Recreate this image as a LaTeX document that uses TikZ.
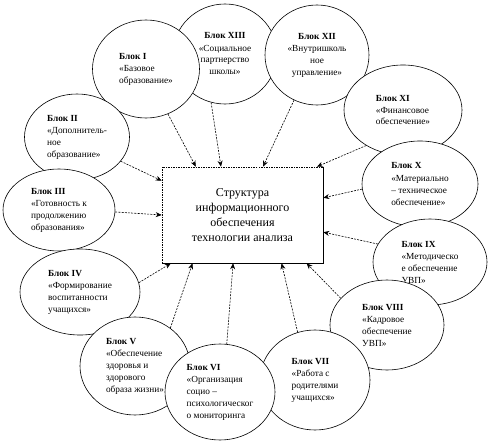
\documentclass[tikz,border=0pt]{standalone}
\usepackage{fontspec}
\setmainfont{Liberation Serif}
\usetikzlibrary{arrows.meta, shapes.geometric}
\tikzset{
  every picture/.style={line width=0.6pt},
  blok/.style={ellipse, draw, fill=white, inner sep=0pt, align=left,
    minimum width=#1, font=\fontsize{9.3}{12}\selectfont},
  blok/.default=108pt,
  glavn/.style={draw, dashed, dash pattern=on 1.5pt off 1pt, fill=white, inner sep=0pt,
    minimum width=161pt, minimum height=96pt, align=center,
    font=\fontsize{12}{15}\selectfont},
  strelka/.style={-{Stealth[length=6pt, width=5pt]}, dashed, dash pattern=on 2pt off 1.2pt},
}

\begin{document}
\begin{tikzpicture}[x=1pt, y=-1pt]
  \useasboundingbox (0,0) rectangle (491,447);
  % verkhnij ryad
  \node[blok=104pt, minimum height=100pt, align=center] (b13) at (225,54) {\textbf{Блок XIII}\\«Социальное\\партнерство\\школы»};
  \node[blok=104pt, minimum height=100pt, align=center] (b12) at (317,55) {\textbf{Блок XII}\\«Внутришколь\\ное\\управление»};
  \node[blok=118pt, minimum height=90pt] (b11) at (403,110) {\textbf{Блок XI}\\«Финансовое\\обеспечение»};
  \node[blok=116pt, minimum height=86pt] (b10) at (420,184) {\textbf{Блок X}\\«Материально\\– техническое\\обеспечение»};
  \node[blok=114pt, minimum height=86pt] (b9) at (430,262) {\textbf{Блок IX}\\«Методическо\\е обеспечение\\УВП»};
  \node[blok=114pt, minimum height=90pt] (b8) at (387,325) {\textbf{Блок VIII}\\«Кадровое\\обеспечение\\УВП»};
  \node[blok=110pt, minimum height=100pt] (b7) at (315,380) {\textbf{Блок VII}\\«Работа с\\родителями\\учащихся»};
  % levaya storona
  \node[blok=107pt, minimum height=98pt] (b1) at (146,69) {\textbf{Блок I}\\«Базовое\\образование»};
  \node[blok=105pt, minimum height=86pt] (b2) at (77,137) {\textbf{Блок II}\\«Дополнитель-\\ное\\образование»};
  \node[blok=112pt, minimum height=82pt] (b3) at (59,210) {\textbf{Блок III}\\«Готовность к\\продолжению\\образования»};
  \node[blok=120pt, minimum height=86pt] (b4) at (80,292) {\textbf{Блок IV}\\«Формирование\\воспитанности\\учащихся»};
  \node[blok=110pt, minimum height=98pt] (b5) at (135,366) {\textbf{Блок V}\\«Обеспечение\\здоровья и\\здорового\\образа жизни»};
  \node[blok=110pt, minimum height=96pt] (b6) at (220,392) {\textbf{Блок VI}\\«Организация\\социо –\\психологическог\\о мониторинга};
  % tsentr
  \node[glavn] (main) at (242.5,215) {Структура\\информационного\\обеспечения\\технологии анализа};
  \draw[line width=1pt] (main.north east) -- (main.south east) -- (main.south west);
  % strelki
  \draw[strelka] (b13.-106) -- (main.114);
  \draw[strelka] (b12.-117) -- (main.67);
  \draw[strelka] (b1.-64) -- (main.134);
  \draw[strelka] (b11.-136) -- (main.33);
  \draw[strelka] (b2.-29) -- (main.157);
  \draw[strelka] (b10.-175) -- (main.12);
  \draw[strelka] (b3.-2) -- (main.180);
  \draw[strelka] (b9.161) -- (main.-12);
  \draw[strelka] (b4.9) -- (main.-146);
  \draw[strelka] (b8.150) -- (main.-37);
  \draw[strelka] (b5.47) -- (main.-136);
  \draw[strelka] (b6.82) -- (main.-101);
  \draw[strelka] (b7.110) -- (main.-51);
\end{tikzpicture}
\end{document}
